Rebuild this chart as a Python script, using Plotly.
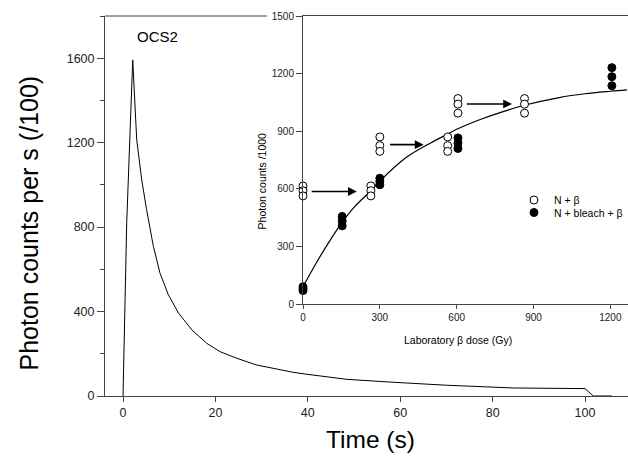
import plotly.graph_objects as go

# ---- main decay curve (OCS2) ----
time_s = [0, 0.8, 2.1, 2.96, 4.04, 5.1, 6.57, 8.0, 9.8, 12.0, 14.9, 18.1, 21, 24.6,
          28.9, 34, 36.9, 39.8, 48.4, 57.8, 70, 84.5, 93.8, 100, 101.8, 105.8]
counts = [0, 820, 1592, 1215, 1025, 883, 709, 582, 480, 393, 313, 250, 210, 179,
          147, 123, 112, 103, 79, 66, 51, 38, 35, 35, 0, 0]

# ---- inset: N + beta (open) ----
open_dose = [0, 0, 0, 265, 265, 265, 300, 300, 300, 565, 565, 565, 605, 605, 605, 865, 865, 865]
open_val = [615, 590, 563, 615, 590, 563, 870, 825, 795, 870, 825, 795, 1070, 1041, 994, 1070, 1041, 994]

# ---- inset: N + bleach + beta (filled) ----
fill_dose = [0, 0, 0, 153, 153, 153, 300, 300, 300, 605, 605, 605, 1206, 1206, 1206]
fill_val = [90, 80, 70, 456, 433, 407, 655, 638, 621, 865, 838, 810, 1231, 1184, 1137]

# ---- inset: fitted growth curve ----
fit_dose = [0, 50, 100, 150, 200, 265, 300, 400, 500, 565, 600, 700, 800, 864, 1000, 1100, 1200, 1265]
fit_val = [90, 210, 320, 420, 505, 590, 640, 760, 840, 885, 910, 965, 1010, 1035, 1075, 1095, 1108, 1115]

# ---- inset arrows ----
arrow_tail = [28, 334, 634]
arrow_head = [210, 471, 816]
arrow_y = [586, 830, 1042]

main_ticks = [0, 400, 800, 1200, 1600]
time_ticks = [0, 20, 40, 60, 80, 100]
inset_y_ticks = [0, 300, 600, 900, 1200, 1500]
inset_x_ticks = [0, 300, 600, 900, 1200]

FONT = "Liberation Sans, Arial, sans-serif"
AX = "#444444"

fig = go.Figure()
fig.add_trace(go.Scatter(x=time_s, y=counts, mode="lines",
                         line=dict(color="black", width=1), showlegend=False,
                         xaxis="x", yaxis="y"))
fig.add_trace(go.Scatter(x=fit_dose, y=fit_val, mode="lines", line_shape="spline",
                         line=dict(color="black", width=1.2), showlegend=False,
                         xaxis="x2", yaxis="y2", cliponaxis=False))
fig.add_trace(go.Scatter(x=open_dose, y=open_val, mode="markers", name="N + β",
                         marker=dict(symbol="circle", size=8, color="white",
                                     line=dict(color="black", width=1)),
                         xaxis="x2", yaxis="y2", cliponaxis=False, legend="legend"))
fig.add_trace(go.Scatter(x=fill_dose, y=fill_val, mode="markers", name="N + bleach + β",
                         marker=dict(symbol="circle", size=8, color="black",
                                     line=dict(color="black", width=1)),
                         xaxis="x2", yaxis="y2", cliponaxis=False, legend="legend2"))

annotations = []
for t, h, yv in zip(arrow_tail, arrow_head, arrow_y):
    annotations.append(dict(x=h, y=yv, ax=t, ay=yv, xref="x2", yref="y2",
                            axref="x2", ayref="y2", text="", showarrow=True,
                            arrowhead=2, arrowsize=1.1, arrowwidth=1.6,
                            arrowcolor="black", standoff=0, startstandoff=0))

def label(text, px, py, size, angle=0):
    return dict(text=text, x=(px - 105) / 523, y=(396 - py) / 380,
                xref="paper", yref="paper", showarrow=False, textangle=angle,
                xanchor="center", yanchor="middle",
                font=dict(size=size, color="black", family=FONT))

annotations += [
    dict(text="OCS2", x=7.5, y=1705, xref="x", yref="y", showarrow=False,
         xanchor="center", yanchor="middle",
         font=dict(size=15, color="black", family=FONT)),
    label("Photon counts per s (/100)", 28, 223.5, 25, -90),
    label("Time (s)", 370, 440, 24.5),
    label("Photon counts /1000", 261.7, 181.7, 10.5, -90),
    label("Laboratory β dose (Gy)", 458, 340, 10.5),
]

fig.update_layout(
    width=628, height=461,
    margin=dict(l=105, r=0, t=16, b=65),
    paper_bgcolor="white", plot_bgcolor="white",
    font=dict(family=FONT, color="black"),
    xaxis=dict(range=[-3.9, 109.3], tickvals=time_ticks, ticks="outside", ticklen=5,
               tickcolor=AX, showline=True, linecolor=AX, linewidth=1,
               showgrid=False, zeroline=False, tickfont=dict(size=12.5, color="#222")),
    yaxis=dict(range=[0, 1800], tickvals=main_ticks, ticks="outside", ticklen=7,
               tickcolor=AX, showline=True, linecolor=AX, linewidth=1,
               showgrid=False, zeroline=False, tickfont=dict(size=12.5, color="#222"),
               minor=dict(dtick=200, ticks="outside", ticklen=4, tickcolor=AX)),
    xaxis2=dict(domain=[(303 - 105) / 523, 1], anchor="y2", range=[0, 1269],
                tickvals=inset_x_ticks, ticks="outside", ticklen=4, tickcolor=AX,
                showline=True, linecolor=AX, linewidth=1, mirror=True,
                showgrid=False, zeroline=False, tickfont=dict(size=10, color="#222")),
    yaxis2=dict(domain=[(396 - 304) / 380, 1], anchor="x2", range=[0, 1500],
                tickvals=inset_y_ticks, ticks="outside", ticklen=6, tickcolor=AX,
                showline=True, linecolor=AX, linewidth=1,
                showgrid=False, zeroline=False, tickfont=dict(size=10, color="#222")),
    legend=dict(x=(514 - 105) / 523, y=(396 - 200) / 380, xanchor="left", yanchor="middle",
                bgcolor="rgba(0,0,0,0)", font=dict(size=10.5, family=FONT, color="black"),
                borderwidth=0, tracegroupgap=0),
    legend2=dict(x=(514 - 105) / 523, y=(396 - 212.5) / 380, xanchor="left", yanchor="middle",
                 bgcolor="rgba(0,0,0,0)", font=dict(size=10.5, family=FONT, color="black"),
                 borderwidth=0, tracegroupgap=0),
    annotations=annotations,
    shapes=[dict(type="line", xref="paper", yref="paper", x0=0, x1=(267 - 105) / 523,
                 y0=1, y1=1, line=dict(color=AX, width=1))],
)

fig.write_html("out.html", config={"displayModeBar": False},
               post_script="document.body.style.margin='0';document.body.style.overflow='hidden';")
